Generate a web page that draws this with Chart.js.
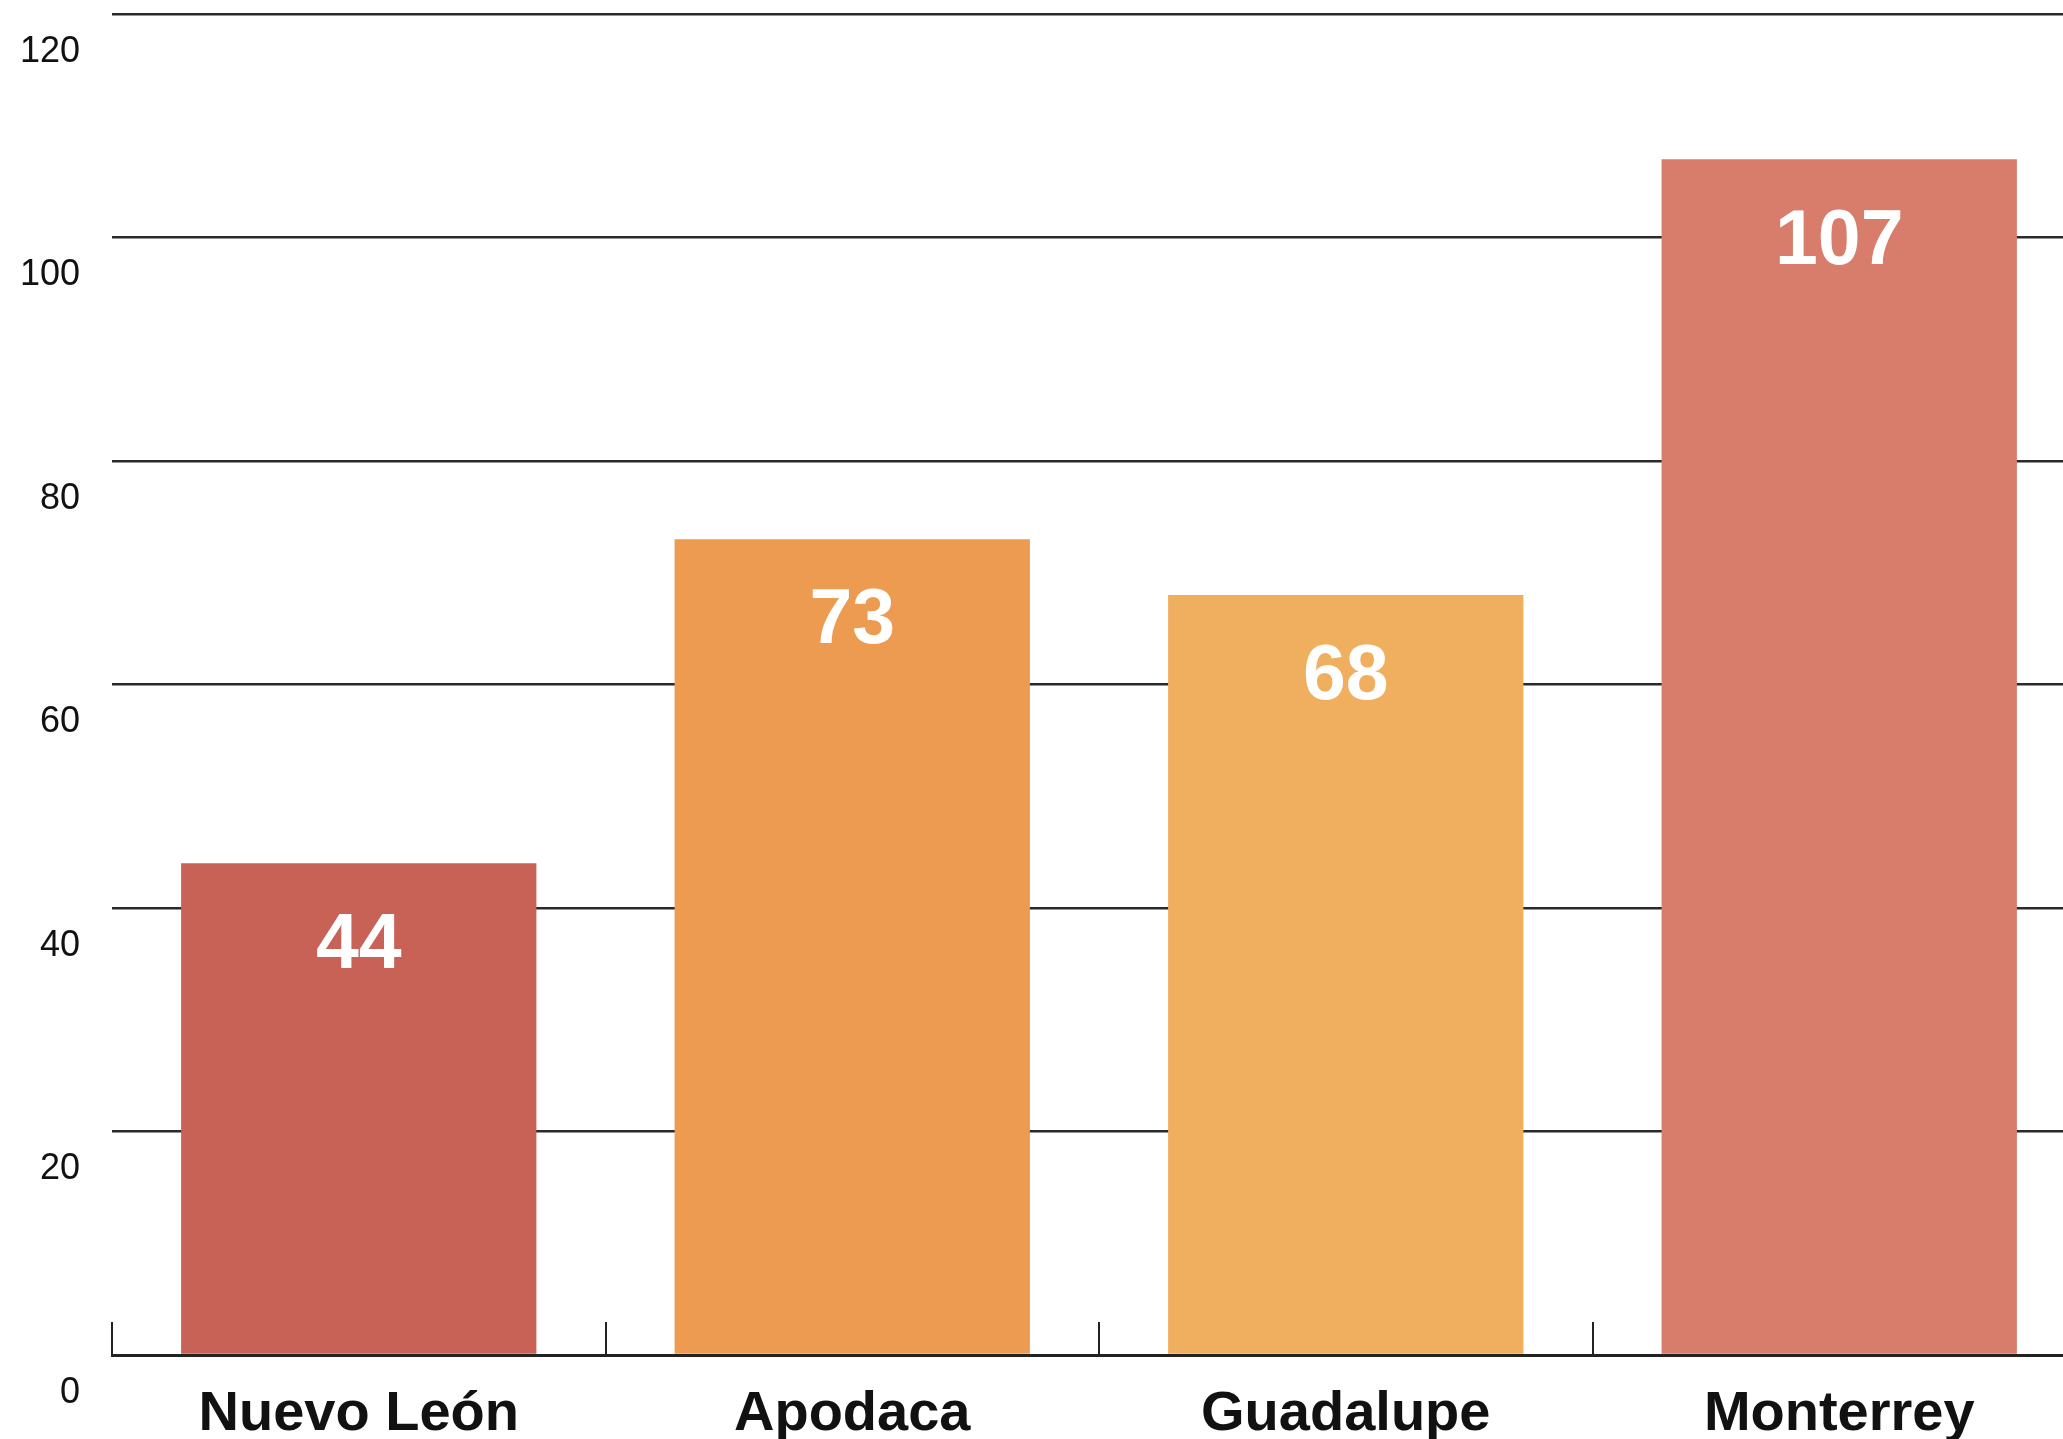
<!DOCTYPE html>
<html>
<head>
<meta charset="utf-8">
<script src="https://cdn.jsdelivr.net/npm/chart.js@4"></script>
<style>
    html, body { margin: 0; padding: 0; background: #fff; overflow: hidden; }
    #chart { display: block; }
</style>
</head>
<body>
<canvas id="chart" width="2086" height="1439"></canvas>
<script>
// Data
const categories = ['Nuevo León', 'Apodaca', 'Guadalupe', 'Monterrey'];
const values = [44, 73, 68, 107];
const barColors = ['#C86257', '#EC9B50', '#F0AE5F', '#D87D6B'];
const yTicks = [0, 20, 40, 60, 80, 100, 120];

// White value labels inside the top of each bar
const valueLabels = {
    id: 'valueLabels',
    afterDatasetsDraw(chart) {
        const ctx = chart.ctx;
        const meta = chart.getDatasetMeta(0);
        ctx.save();
        ctx.fillStyle = '#fff';
        ctx.font = 'bold 77px "Liberation Sans", Arial, sans-serif';
        ctx.textAlign = 'center';
        ctx.textBaseline = 'middle';
        meta.data.forEach((bar, i) => {
            ctx.fillText(String(values[i]), bar.x, bar.y + 83);
        });
        ctx.restore();
    }
};

new Chart(document.getElementById('chart'), {
    type: 'bar',
    data: {
        labels: categories,
        datasets: [{
            data: values,
            backgroundColor: barColors,
            borderWidth: 0,
            barPercentage: 0.72,
            categoryPercentage: 1
        }]
    },
    options: {
        responsive: false,
        animation: false,
        layout: { padding: { top: 14, left: 0, right: 0, bottom: 0 } },
        plugins: {
            legend: { display: false },
            tooltip: { enabled: false }
        },
        scales: {
            x: {
                afterFit: s => { s.height = 84; },
                grid: {
                    display: true,
                    offset: true,
                    drawOnChartArea: false,
                    drawTicks: true,
                    tickLength: -33,
                    color: '#222',
                    lineWidth: 2
                },
                border: { display: true, color: '#222', width: 3 },
                ticks: {
                    color: '#111',
                    padding: 59,
                    font: { family: '"Liberation Sans", Arial, sans-serif', size: 56, weight: 'bold' }
                }
            },
            y: {
                min: 0,
                max: 120,
                afterFit: s => { s.width = 112; s.paddingTop = 0; s.paddingBottom = 0; },
                afterBuildTicks: s => { s.ticks = yTicks.map(v => ({ value: v })); },
                grid: {
                    drawTicks: false,
                    color: '#2a2a2a',
                    lineWidth: 2.5
                },
                border: { display: false },
                ticks: {
                    color: '#111',
                    padding: 32,
                    labelOffset: 38,
                    font: { family: '"Liberation Sans", Arial, sans-serif', size: 36 }
                }
            }
        }
    },
    plugins: [valueLabels]
});
</script>
</body>
</html>
